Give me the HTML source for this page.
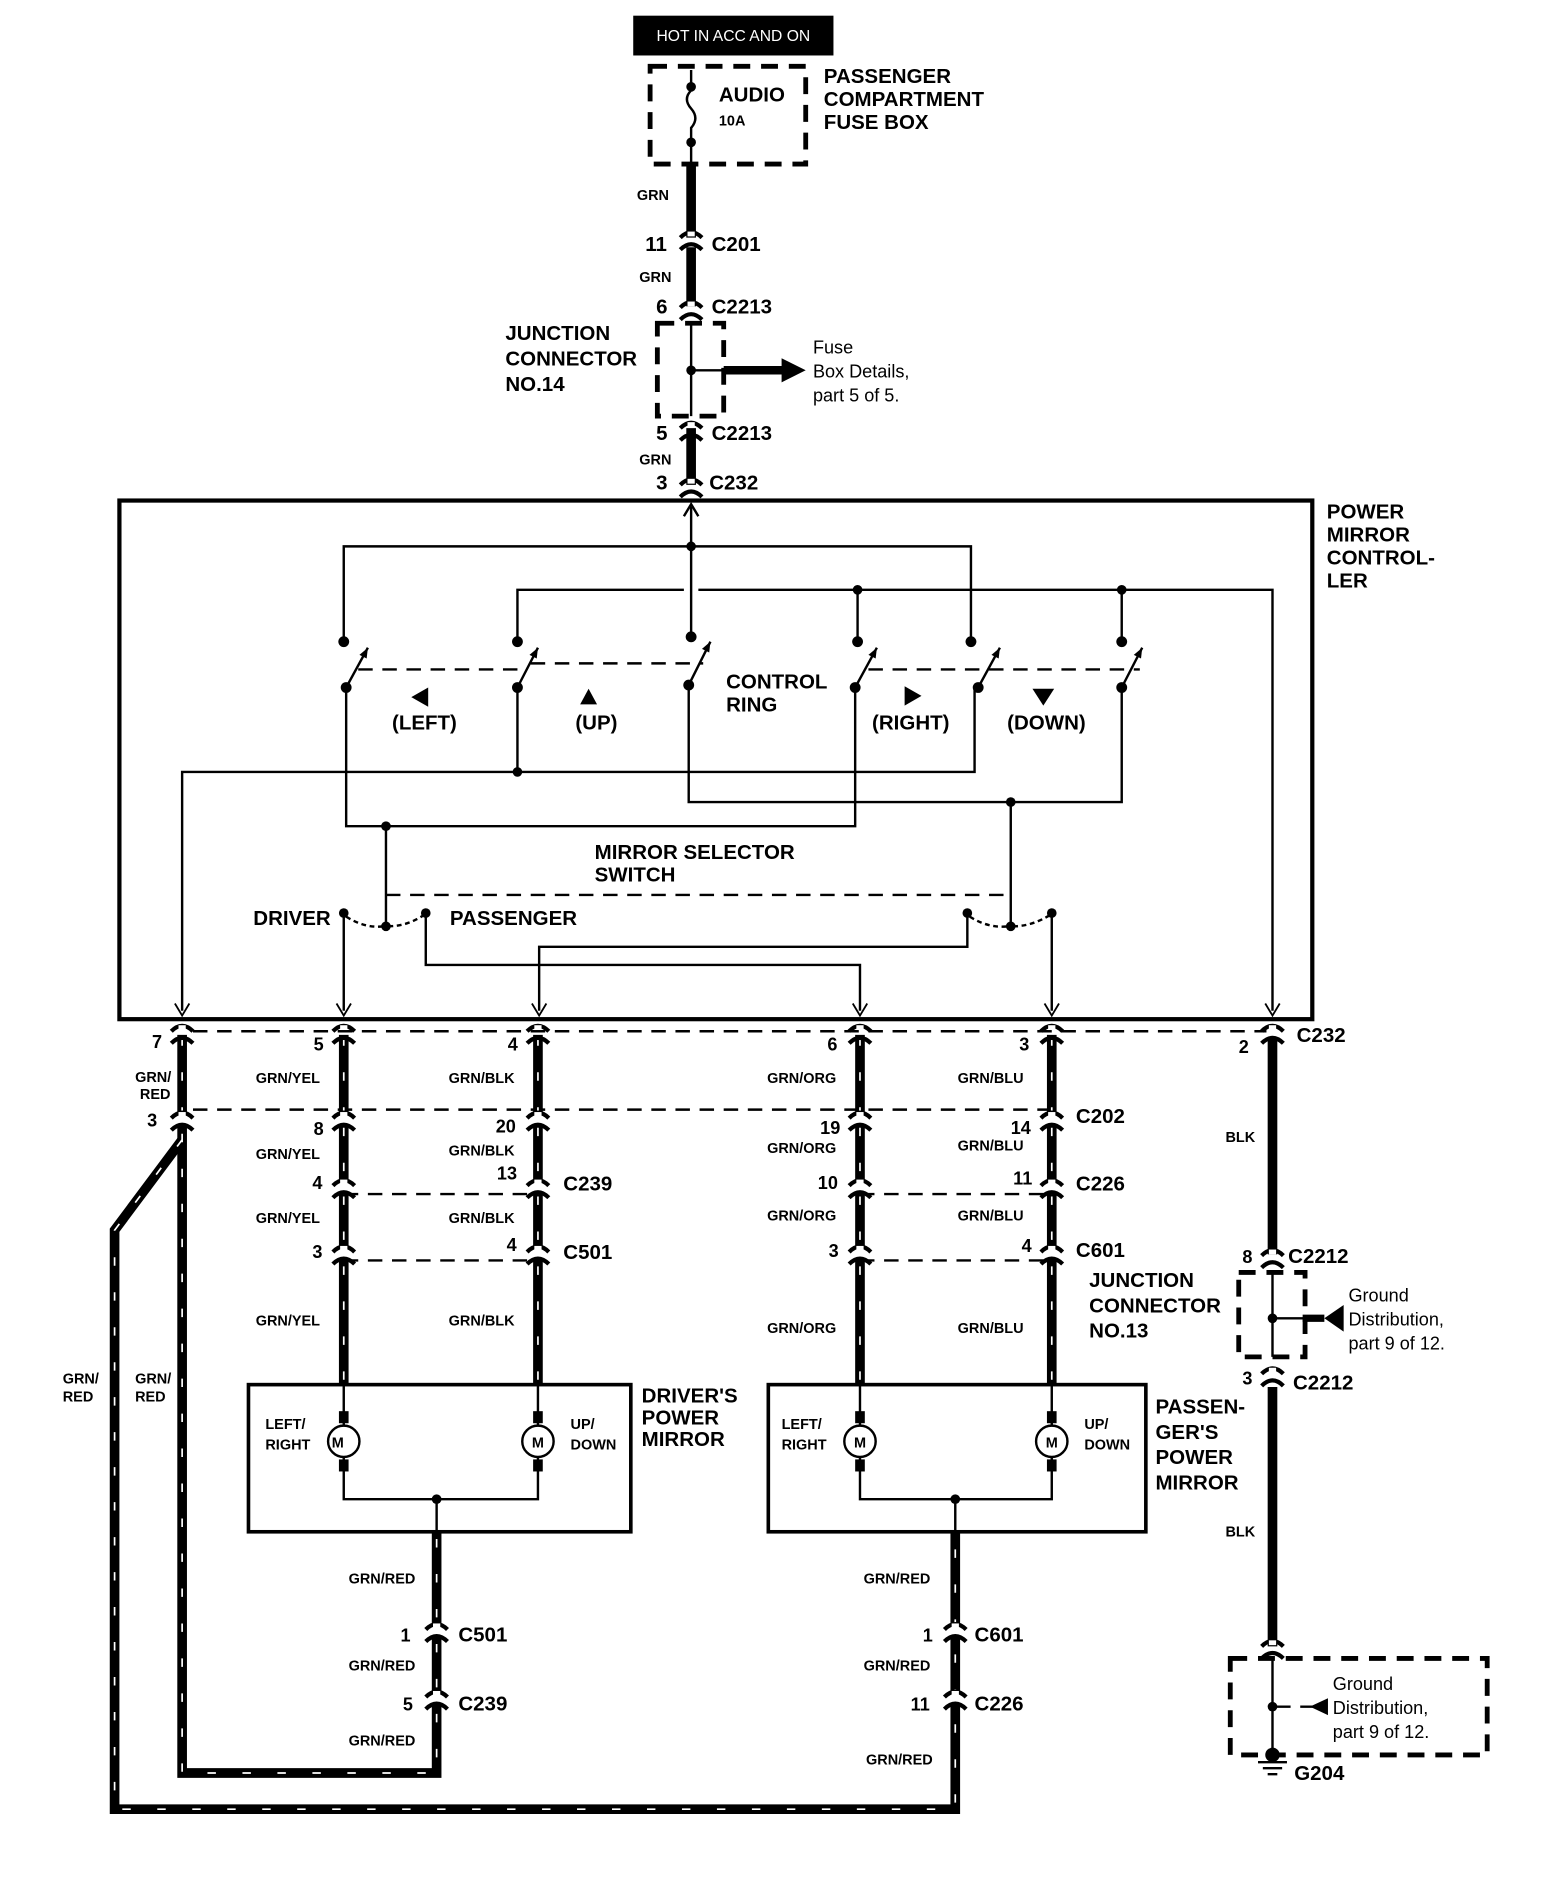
<!DOCTYPE html>
<html><head><meta charset="utf-8"><style>
html,body{margin:0;padding:0;background:#fff}
svg{display:block}
text{font-family:"Liberation Sans",sans-serif;font-weight:bold;fill:#000}
.t{font-size:17px}.s{font-size:12px}.n{font-size:15px}.r{font-weight:normal;font-size:15px}
.th{stroke:#000;stroke-width:2;fill:none}
.w{stroke:#000;stroke-width:8;fill:none}
.st{stroke:#fff;stroke-width:1.4;fill:none;stroke-dasharray:7 22}
.d{stroke:#000;stroke-width:2;fill:none;stroke-dasharray:12 8}
.bd{stroke:#000;stroke-width:4;fill:none;stroke-dasharray:14 9}
</style></head><body>
<svg width="1568" height="1890" viewBox="0 0 1300 1567" preserveAspectRatio="none" xmlns="http://www.w3.org/2000/svg">
<defs>
<g id="cn"><path d="M-9,-3 Q0,-12 9,-3 M-9,7 Q0,-2 9,7" stroke="#000" stroke-width="3.5" fill="none"/><rect x="-3" y="-8" width="6" height="4" fill="#fff"/></g>
<g id="ar"><path d="M-6,-10 L0,0 L6,-10" stroke="#000" stroke-width="1.5" fill="none"/></g>
</defs>
<!-- top -->
<rect x="525" y="13" width="166" height="33" fill="#000"/>
<text x="608" y="34" text-anchor="middle" style="fill:#fff;font-weight:normal;font-size:13px">HOT IN ACC AND ON</text>
<rect x="539" y="55" width="129" height="81" class="bd"/>
<path d="M573,58 V75 Q566,82 573,90 Q580,98 573,106 V140" class="th"/>
<circle cx="573" cy="72" r="4"/><circle cx="573" cy="118" r="4"/>
<text x="596" y="84" class="t">AUDIO</text><text x="596" y="104" class="s">10A</text>
<text x="683" y="69" class="t">PASSENGER</text><text x="683" y="88" class="t">COMPARTMENT</text><text x="683" y="107" class="t">FUSE BOX</text>
<path d="M573,138 V197 M573,205 V254 M573,355 V402" class="w"/>
<use href="#cn" x="573" y="200"/><use href="#cn" x="573" y="258"/><use href="#cn" x="573" y="358"/><use href="#cn" x="573" y="405"/>
<text x="528" y="166" class="s">GRN</text><text x="530" y="234" class="s">GRN</text><text x="530" y="385" class="s">GRN</text>
<text x="535" y="208" class="t">11</text><text x="590" y="208" class="t">C201</text>
<text x="544" y="260" class="t">6</text><text x="590" y="260" class="t">C2213</text>
<text x="544" y="365" class="t">5</text><text x="590" y="365" class="t">C2213</text>
<text x="544" y="406" class="t">3</text><text x="588" y="406" class="t">C232</text>
<rect x="545" y="268" width="55" height="77" class="bd"/>
<path d="M573,268 V345 M573,307 H600" class="th"/><circle cx="573" cy="307" r="4"/>
<path d="M600,307 H650" stroke="#000" stroke-width="7"/><path d="M648,297 L668,307 L648,317Z"/>
<text x="419" y="282" class="t">JUNCTION</text><text x="419" y="303" class="t">CONNECTOR</text><text x="419" y="324" class="t">NO.14</text>
<text x="674" y="293" class="r">Fuse</text><text x="674" y="313" class="r">Box Details,</text><text x="674" y="333" class="r">part 5 of 5.</text>
<!-- controller -->
<rect x="99" y="415" width="989" height="430" stroke="#000" stroke-width="3.5" fill="none"/>
<text x="1100" y="430" class="t">POWER</text><text x="1100" y="449" class="t">MIRROR</text><text x="1100" y="468" class="t">CONTROL-</text><text x="1100" y="487" class="t">LER</text>
<path d="M573,420 V528 M285,532 V453 H805 V532 M429,532 V489 H567 M579,489 H1055 V838 M711,489 V532 M930,489 V532" class="th"/>
<path d="M567,428 L573,418 L579,428" class="th"/>
<circle cx="573" cy="453" r="4"/><circle cx="711" cy="489" r="4"/><circle cx="930" cy="489" r="4"/>
<g fill="#000">
<circle cx="285" cy="532" r="4.5"/><circle cx="429" cy="532" r="4.5"/><circle cx="573" cy="528" r="4.5"/><circle cx="711" cy="532" r="4.5"/><circle cx="805" cy="532" r="4.5"/><circle cx="930" cy="532" r="4.5"/>
<circle cx="287" cy="570" r="4.5"/><circle cx="429" cy="570" r="4.5"/><circle cx="571" cy="568" r="4.5"/><circle cx="709" cy="570" r="4.5"/><circle cx="811" cy="570" r="4.5"/><circle cx="930" cy="570" r="4.5"/>
</g>
<g class="th">
<path d="M287,570 L305,537 M429,570 L446,537 M571,568 L589,532 M709,570 L727,537 M811,570 L829,537 M930,570 L947,537"/>
</g>
<g fill="#000">
<path d="M305,537 l-7,6 l6,3z"/><path d="M446,537 l-7,6 l6,3z"/><path d="M589,532 l-7,6 l6,3z"/><path d="M727,537 l-7,6 l6,3z"/><path d="M829,537 l-7,6 l6,3z"/><path d="M947,537 l-7,6 l6,3z"/>
</g>
<path d="M297,555 H436 M440,550 H583 M720,555 H945" class="d"/>
<path d="M355,570 L341,578 L355,586Z"/><path d="M488,571 L481,584 H495Z"/><path d="M750,569 L764,577 L750,585Z"/><path d="M856,571 L865,585 L874,571Z"/>
<text x="325" y="605" class="t">(LEFT)</text><text x="477" y="605" class="t">(UP)</text><text x="723" y="605" class="t">(RIGHT)</text><text x="835" y="605" class="t">(DOWN)</text>
<text x="602" y="571" class="t">CONTROL</text><text x="602" y="590" class="t">RING</text>
<path d="M287,570 V685 H709 V570 M429,570 V640 M151,838 V640 H808 V570 M571,568 V665 H930 V570 M320,685 V730 M838,665 V730" class="th"/>
<circle cx="429" cy="640" r="4"/><circle cx="320" cy="685" r="4"/><circle cx="838" cy="665" r="4"/>
<text x="493" y="712" class="t">MIRROR SELECTOR</text><text x="493" y="731" class="t">SWITCH</text>
<path d="M320,742 H838" class="d"/>
<circle cx="285" cy="757" r="4"/><circle cx="353" cy="757" r="4"/><circle cx="320" cy="768" r="4"/>
<circle cx="802" cy="757" r="4"/><circle cx="872" cy="757" r="4"/><circle cx="838" cy="768" r="4"/>
<path d="M287,760 Q303,770 318,768 M322,768 Q337,768 351,759 M804,760 Q820,770 836,768 M840,768 Q855,768 870,759" class="d" style="stroke-dasharray:4 3"/>
<path d="M320,730 V768 M838,730 V768" class="th"/>
<text x="210" y="767" class="t">DRIVER</text><text x="373" y="767" class="t">PASSENGER</text>
<path d="M285,757 V838 M353,757 V800 H713 V838 M872,757 V838 M802,757 V785 H447 V838" class="th"/>
<g><use href="#ar" x="151" y="842"/><use href="#ar" x="285" y="842"/><use href="#ar" x="447" y="842"/><use href="#ar" x="713" y="842"/><use href="#ar" x="872" y="842"/><use href="#ar" x="1055" y="842"/></g>
<!-- harness -->
<path d="M160,855 H1050 M160,920 H872 M285,990 H446 M713,990 H872 M285,1045 H446 M713,1045 H872" class="d"/>
<g class="w">
<path d="M151,858 V925 M285,858 V925 M446,858 V925 M713,858 V925 M872,858 V925"/>
<path d="M285,933 V980 M446,933 V980 M713,933 V980 M872,933 V980"/>
<path d="M285,990 V1035 M446,990 V1035 M713,990 V1035 M872,990 V1035"/>
<path d="M285,1045 V1148 M446,1045 V1148 M713,1045 V1148 M872,1045 V1148"/>
<path d="M151,933 V1470 H362 V1412 M362,1404 V1356 M362,1348 V1270"/>
<path d="M151,945 L95,1020 V1500 H792 V1412 M792,1404 V1356 M792,1348 V1270"/>
<path d="M1055,860 V1040 M1055,1150 V1365"/>
</g>
<g class="st">
<path d="M151,860 V925 M285,860 V925 M446,860 V925 M713,860 V925 M872,860 V925 M285,935 V980 M446,935 V980 M713,935 V980 M872,935 V980 M285,992 V1035 M446,992 V1035 M713,992 V1035 M872,992 V1035 M285,1050 V1148 M446,1050 V1148 M713,1050 V1148 M872,1050 V1148"/>
<path d="M151,940 V1470 H362 V1270 M151,945 L95,1020 V1500 H792 V1270"/>
</g>
<g>
<use href="#cn" x="151" y="858"/><use href="#cn" x="285" y="858"/><use href="#cn" x="446" y="858"/><use href="#cn" x="713" y="858"/><use href="#cn" x="872" y="858"/><use href="#cn" x="1055" y="858"/>
<use href="#cn" x="151" y="930"/><use href="#cn" x="285" y="930"/><use href="#cn" x="446" y="930"/><use href="#cn" x="713" y="930"/><use href="#cn" x="872" y="930"/>
<use href="#cn" x="285" y="986"/><use href="#cn" x="446" y="986"/><use href="#cn" x="713" y="986"/><use href="#cn" x="872" y="986"/>
<use href="#cn" x="285" y="1041"/><use href="#cn" x="446" y="1041"/><use href="#cn" x="713" y="1041"/><use href="#cn" x="872" y="1041"/>
<use href="#cn" x="362" y="1354"/><use href="#cn" x="362" y="1410"/><use href="#cn" x="792" y="1354"/><use href="#cn" x="792" y="1410"/>
<use href="#cn" x="1055" y="1044"/><use href="#cn" x="1055" y="1142"/><use href="#cn" x="1055" y="1368"/>
</g>
<g class="n">
<text x="126" y="869">7</text><text x="260" y="871">5</text><text x="421" y="871">4</text><text x="686" y="871">6</text><text x="845" y="871">3</text><text x="1027" y="873">2</text>
<text x="122" y="934">3</text><text x="260" y="941">8</text><text x="411" y="939">20</text><text x="680" y="940">19</text><text x="838" y="940">14</text>
<text x="259" y="986">4</text><text x="412" y="978">13</text><text x="678" y="986">10</text><text x="840" y="982">11</text>
<text x="259" y="1043">3</text><text x="420" y="1037">4</text><text x="687" y="1042">3</text><text x="847" y="1038">4</text>
<text x="332" y="1361">1</text><text x="334" y="1418">5</text><text x="765" y="1361">1</text><text x="755" y="1418">11</text>
<text x="1030" y="1047">8</text><text x="1030" y="1148">3</text>
</g>
<g class="t">
<text x="1075" y="864">C232</text><text x="892" y="931">C202</text>
<text x="467" y="987">C239</text><text x="892" y="987">C226</text>
<text x="467" y="1044">C501</text><text x="892" y="1042">C601</text>
<text x="380" y="1361">C501</text><text x="380" y="1418">C239</text><text x="808" y="1361">C601</text><text x="808" y="1418">C226</text>
<text x="1068" y="1047">C2212</text><text x="1072" y="1152">C2212</text><text x="1073" y="1476">G204</text>
<text x="903" y="1067">JUNCTION</text><text x="903" y="1088">CONNECTOR</text><text x="903" y="1109">NO.13</text>
<text x="532" y="1163">DRIVER'S</text><text x="532" y="1181">POWER</text><text x="532" y="1199">MIRROR</text>
<text x="958" y="1172">PASSEN-</text><text x="958" y="1193">GER'S</text><text x="958" y="1214">POWER</text><text x="958" y="1235">MIRROR</text>
</g>
<g class="s">
<text x="112" y="897">GRN/</text><text x="116" y="911">RED</text>
<text x="212" y="898">GRN/YEL</text><text x="372" y="898">GRN/BLK</text><text x="636" y="898">GRN/ORG</text><text x="794" y="898">GRN/BLU</text>
<text x="212" y="961">GRN/YEL</text><text x="372" y="958">GRN/BLK</text><text x="636" y="956">GRN/ORG</text><text x="794" y="954">GRN/BLU</text>
<text x="212" y="1014">GRN/YEL</text><text x="372" y="1014">GRN/BLK</text><text x="636" y="1012">GRN/ORG</text><text x="794" y="1012">GRN/BLU</text>
<text x="212" y="1099">GRN/YEL</text><text x="372" y="1099">GRN/BLK</text><text x="636" y="1105">GRN/ORG</text><text x="794" y="1105">GRN/BLU</text>
<text x="52" y="1147">GRN/</text><text x="52" y="1162">RED</text><text x="112" y="1147">GRN/</text><text x="112" y="1162">RED</text>
<text x="289" y="1313">GRN/RED</text><text x="289" y="1385">GRN/RED</text><text x="289" y="1447">GRN/RED</text>
<text x="716" y="1313">GRN/RED</text><text x="716" y="1385">GRN/RED</text><text x="718" y="1463">GRN/RED</text>
<text x="1016" y="947">BLK</text><text x="1016" y="1274">BLK</text>
</g>
<!-- mirror boxes -->
<rect x="206" y="1148" width="317" height="122" stroke="#000" stroke-width="3" fill="none"/>
<rect x="637" y="1148" width="313" height="122" stroke="#000" stroke-width="3" fill="none"/>
<g class="th">
<path d="M285,1148 V1243 H446 V1148 M362,1243 V1270 M713,1148 V1243 H872 V1148 M792,1243 V1270"/>
</g>
<g stroke="#000" stroke-width="2" fill="#fff">
<circle cx="285" cy="1195" r="13"/><circle cx="446" cy="1195" r="13"/><circle cx="713" cy="1195" r="13"/><circle cx="872" cy="1195" r="13"/>
</g>
<g fill="#000"><rect x="281" y="1170" width="8" height="10"/><rect x="281" y="1210" width="8" height="10"/><rect x="442" y="1170" width="8" height="10"/><rect x="442" y="1210" width="8" height="10"/><rect x="709" y="1170" width="8" height="10"/><rect x="709" y="1210" width="8" height="10"/><rect x="868" y="1170" width="8" height="10"/><rect x="868" y="1210" width="8" height="10"/>
<circle cx="362" cy="1243" r="4"/><circle cx="792" cy="1243" r="4"/></g>
<g style="font-weight:normal;font-size:12px">
<text x="280" y="1200" text-anchor="middle">M</text><text x="446" y="1200" text-anchor="middle">M</text><text x="713" y="1200" text-anchor="middle">M</text><text x="872" y="1200" text-anchor="middle">M</text>
<text x="220" y="1185">LEFT/</text><text x="220" y="1202">RIGHT</text><text x="473" y="1185">UP/</text><text x="473" y="1202">DOWN</text>
<text x="648" y="1185">LEFT/</text><text x="648" y="1202">RIGHT</text><text x="899" y="1185">UP/</text><text x="899" y="1202">DOWN</text>
</g>
<!-- right junction -->
<rect x="1027" y="1055" width="55" height="70" class="bd"/>
<path d="M1055,1055 V1125 M1055,1093 H1085" class="th"/><circle cx="1055" cy="1093" r="4"/>
<path d="M1080,1093 H1098" stroke="#000" stroke-width="6"/><path d="M1098,1093 L1114,1082 V1104Z"/>
<text x="1118" y="1079" class="r">Ground</text><text x="1118" y="1099" class="r">Distribution,</text><text x="1118" y="1119" class="r">part 9 of 12.</text>
<rect x="1020" y="1375" width="213" height="80" class="bd"/>
<path d="M1055,1375 V1455 M1055,1415 H1070 M1078,1415 H1090" class="th"/><circle cx="1055" cy="1415" r="4"/>
<path d="M1086,1415 L1101,1408 V1422Z"/>
<text x="1105" y="1401" class="r">Ground</text><text x="1105" y="1421" class="r">Distribution,</text><text x="1105" y="1441" class="r">part 9 of 12.</text>
<circle cx="1055" cy="1455" r="6"/>
<path d="M1043,1461 H1067 M1047,1466 H1063 M1051,1471 H1059" class="th"/>
</svg>
</body></html>
